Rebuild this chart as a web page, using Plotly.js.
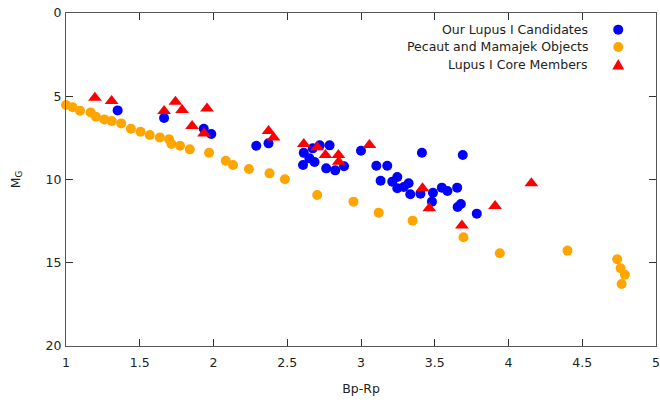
<!DOCTYPE html>
<html>
<head>
<meta charset="utf-8">
<script src="https://cdn.plot.ly/plotly-3.0.1.min.js"></script>
<style>html,body{margin:0;padding:0;background:#fff;}#chart{width:660px;height:403px;}</style>
</head>
<body>
<div id="chart"></div>
<script>
// Our Lupus I Candidates
const candX = [1.35, 1.665, 1.934, 1.985, 2.29, 2.373, 2.612, 2.65, 2.607, 2.673, 2.72, 2.787, 2.685, 2.764, 2.825, 2.885,
  3.0, 3.104, 3.178, 3.133, 3.212, 3.246, 3.246, 3.29, 3.323, 3.334, 3.403, 3.413, 3.488, 3.481, 3.548, 3.586, 3.652, 3.69, 3.655, 3.677, 3.785];
const candY = [5.85, 6.31, 6.95, 7.27, 7.97, 7.83, 8.4, 8.73, 9.13, 8.13, 7.95, 7.95, 8.95, 9.33, 9.45, 9.2,
  8.27, 9.17, 9.17, 10.07, 10.13, 9.85, 10.53, 10.45, 10.23, 10.89, 10.85, 8.39, 10.8, 11.33, 10.49, 10.69, 10.49, 8.53, 11.65, 11.47, 12.05];

// Pecaut and Mamajek Objects
const pmX = [1.0, 1.045, 1.095, 1.167, 1.203, 1.26, 1.31, 1.374, 1.44, 1.505, 1.568, 1.636, 1.699, 1.715, 1.773, 1.839, 1.97,
  2.083, 2.132, 2.24, 2.38, 2.484, 2.703, 2.949, 3.12, 3.35, 3.695, 3.941, 4.40, 4.737, 4.76, 4.789, 4.767];
const pmY = [5.53, 5.66, 5.87, 5.97, 6.23, 6.39, 6.49, 6.63, 6.95, 7.13, 7.33, 7.47, 7.59, 7.87, 7.97, 8.19, 8.39,
  8.87, 9.13, 9.37, 9.63, 9.99, 10.93, 11.33, 11.99, 12.47, 13.47, 14.43, 14.27, 14.79, 15.33, 15.72, 16.28];

// Lupus I Core Members
const coreX = [1.196, 1.309, 1.665, 1.742, 1.787, 1.956, 1.855, 1.936, 2.373, 2.407, 2.612, 2.703, 2.759, 2.847, 2.849,
  3.057, 3.417, 3.463, 3.684, 3.909, 4.155];
const coreY = [5.09, 5.29, 5.89, 5.33, 5.83, 5.73, 6.79, 7.23, 7.09, 7.47, 7.87, 8.07, 8.53, 8.53, 8.93,
  7.93, 10.53, 11.73, 12.77, 11.59, 10.23];

const seriesNames = ["Our Lupus I Candidates", "Pecaut and Mamajek Objects", "Lupus I Core Members"];
const xTicks = [1, 1.5, 2, 2.5, 3, 3.5, 4, 4.5, 5];
const yTicks = [0, 5, 10, 15, 20];

const FONT = "DejaVu Sans, sans-serif";
const colors = ["#0000ff", "#ffa500", "#ff0000"];

const traces = [
  {x: candX, y: candY, name: seriesNames[0], mode: "markers", type: "scatter", cliponaxis: false,
   marker: {color: colors[0], size: 10, symbol: "circle"}},
  {x: pmX, y: pmY, name: seriesNames[1], mode: "markers", type: "scatter", cliponaxis: false,
   marker: {color: colors[1], size: 10, symbol: "circle"}},
  {x: coreX, y: coreY, name: seriesNames[2], mode: "markers", type: "scatter", cliponaxis: false,
   marker: {color: colors[2], size: 12, symbol: "triangle-up"}}
];

// Legend drawn gnuplot-style: right-aligned text, key symbol to the right
const legTextX = 0.888, legKeyX = 0.936;
const legRowsY = [0.95, 0.898, 0.844];
const annotations = seriesNames.map((n, i) => ({
  xref: "paper", yref: "paper", x: legTextX, y: legRowsY[i], xanchor: "right", yanchor: "middle",
  text: n, showarrow: false, font: {family: FONT, size: 12.5, color: "#222"}
}));
const shapes = [0, 1].map(i => ({
  type: "circle", xref: "paper", yref: "paper", xsizemode: "pixel", ysizemode: "pixel",
  xanchor: legKeyX, yanchor: legRowsY[i], x0: -5, x1: 5, y0: -5, y1: 5,
  fillcolor: colors[i], line: {width: 0}
}));
shapes.push({
  type: "path", xref: "paper", yref: "paper", xsizemode: "pixel", ysizemode: "pixel",
  xanchor: legKeyX, yanchor: legRowsY[2], path: "M -6,-4.5 L 6,-4.5 L 0,6 Z",
  fillcolor: colors[2], line: {width: 0}
});

const axisCommon = {
  showgrid: false, zeroline: false, showline: true, linecolor: "#555", linewidth: 1,
  mirror: "ticks", ticks: "inside", ticklen: 7, tickcolor: "#333", tickwidth: 1,
  tickfont: {family: FONT, size: 12.5, color: "#222"}
};

const layout = {
  width: 660, height: 403,
  margin: {l: 66, r: 4, t: 13, b: 57},
  paper_bgcolor: "#fff", plot_bgcolor: "#fff",
  showlegend: false,
  font: {family: FONT, size: 12.5, color: "#222"},
  xaxis: Object.assign({}, axisCommon, {
    range: [1, 5], tickvals: xTicks, ticktext: xTicks.map(String), ticklabelstandoff: 5,
    title: {text: "Bp-Rp", font: {family: FONT, size: 12.5, color: "#222"}, standoff: 15}
  }),
  yaxis: Object.assign({}, axisCommon, {
    range: [20, 0], tickvals: yTicks, ticktext: yTicks.map(String), ticklabelstandoff: 1,
    title: {text: "M<sub>G</sub>", font: {family: FONT, size: 12.5, color: "#222"}, standoff: 22}
  }),
  annotations: annotations,
  shapes: shapes
};

Plotly.newPlot("chart", traces, layout, {displayModeBar: false, staticPlot: true});
</script>
</body>
</html>
